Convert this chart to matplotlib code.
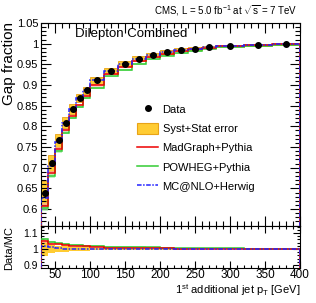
import numpy as np
import matplotlib
matplotlib.use("Agg")
import matplotlib.pyplot as plt
from matplotlib.lines import Line2D
from matplotlib.patches import Patch
from matplotlib.ticker import MultipleLocator, FixedLocator, FuncFormatter

plt.rcParams['font.family'] = ['Liberation Sans', 'DejaVu Sans']
plt.rcParams['mathtext.fontset'] = 'custom'
plt.rcParams['mathtext.rm'] = 'Liberation Sans'
plt.rcParams['mathtext.it'] = 'Liberation Sans'

# ---- data ----
bin_edges = [30, 40, 50, 60, 70, 80, 90, 100, 120, 140, 160, 180, 200, 220, 240, 260, 280, 320, 360, 400]
data_gap = [0.638, 0.711, 0.766, 0.809, 0.842, 0.868, 0.887, 0.911, 0.934, 0.951,
            0.964, 0.973, 0.980, 0.985, 0.988, 0.992, 0.995, 0.9975, 0.999]
data_stat = [0.008, 0.007, 0.006, 0.005, 0.005, 0.004, 0.004, 0.003, 0.003, 0.003,
             0.002, 0.002, 0.002, 0.002, 0.002, 0.001, 0.001, 0.001, 0.001]
data_tot = [0.029, 0.019, 0.016, 0.013, 0.011, 0.010, 0.009, 0.008, 0.007, 0.006,
            0.005, 0.0045, 0.004, 0.0035, 0.003, 0.003, 0.0025, 0.002, 0.002]
madgraph = [0.608, 0.688, 0.745, 0.790, 0.825, 0.852, 0.873, 0.899, 0.927, 0.944,
            0.958, 0.968, 0.976, 0.982, 0.986, 0.990, 0.994, 0.9965, 0.999]
powheg = [0.602, 0.681, 0.740, 0.785, 0.820, 0.847, 0.868, 0.893, 0.921, 0.937,
          0.951, 0.962, 0.971, 0.977, 0.982, 0.987, 0.991, 0.9945, 0.997]
mcnlo = [0.626, 0.704, 0.762, 0.808, 0.842, 0.869, 0.888, 0.911, 0.933, 0.951,
         0.964, 0.973, 0.980, 0.985, 0.988, 0.992, 0.995, 0.9975, 0.999]
mc_unc = [0.006, 0.005, 0.004, 0.004, 0.003, 0.003, 0.003, 0.003, 0.002, 0.002,
          0.002, 0.002, 0.002, 0.001, 0.001, 0.001, 0.001, 0.001, 0.001]

edges = np.array(bin_edges, float)
centers = 0.5 * (edges[:-1] + edges[1:])
widths = np.diff(edges)
d = np.array(data_gap)
tot = np.array(data_tot)
mg = np.array(madgraph); pw = np.array(powheg); nlo = np.array(mcnlo)
mu = np.array(mc_unc)

W, H = 316, 303
fig = plt.figure(figsize=(W / 100, H / 100), dpi=100)
L, R = 41 / W, 300 / W
ax = fig.add_axes([L, 1 - 226 / H, R - L, (226 - 23) / H])
axr = fig.add_axes([L, 1 - 268 / H, R - L, (268 - 226) / H])

gold = '#ffcc33'
edgegold = '#e8a317'
red = '#ee0000'
green = '#33cc33'
blue = '#2222ff'

# main panel
ax.bar(centers, 2 * tot, bottom=d - tot, width=widths, color=gold, edgecolor=edgegold, linewidth=0.6, zorder=1)
ax.bar(centers, 2 * mu, bottom=mg - mu, width=widths, color='#ffaaaa', alpha=0.6, linewidth=0, zorder=2)
ax.bar(centers, 2 * mu, bottom=pw - mu, width=widths, color='#aaeeaa', alpha=0.7, linewidth=0, zorder=2)
ax.stairs(pw, edges, color=green, lw=1.1, zorder=3)
ax.stairs(mg, edges, color=red, lw=1.1, zorder=4)
ax.stairs(nlo, edges, color=blue, lw=1.1, ls=(0, (3, 1, 1, 1)), zorder=5)
ax.errorbar(centers, d, yerr=data_stat, fmt='o', color='black', ms=4, elinewidth=0.8, capsize=0, zorder=6)

ax.set_xlim(30, 400)
ax.set_ylim(0.559, 1.05)
ax.yaxis.set_major_locator(MultipleLocator(0.05))
ax.yaxis.set_minor_locator(MultipleLocator(0.01))
ax.yaxis.set_major_formatter(FuncFormatter(lambda v, p: f"{v:.2f}".rstrip('0').rstrip('.')))
ax.xaxis.set_major_locator(MultipleLocator(50))
ax.xaxis.set_minor_locator(MultipleLocator(10))
ax.tick_params(labelbottom=False)

# ratio panel
rel = tot / d
axr.bar(centers, 2 * rel, bottom=1 - rel, width=widths, color=gold, linewidth=0, zorder=1)
axr.bar(centers, 2 * mu / mg, bottom=d / mg - mu / mg, width=widths, color='#ffaaaa', alpha=0.6, linewidth=0, zorder=2)
axr.bar(centers, 2 * mu / pw, bottom=d / pw - mu / pw, width=widths, color='#aaeeaa', alpha=0.7, linewidth=0, zorder=2)
axr.stairs(d / pw, edges, color=green, lw=1.1, zorder=3)
axr.stairs(d / mg, edges, color=red, lw=1.1, zorder=4)
axr.stairs(d / nlo, edges, color=blue, lw=1.1, ls=(0, (3, 1, 1, 1)), zorder=5)
axr.set_xlim(30, 400)
axr.set_ylim(0.881, 1.144)
axr.yaxis.set_major_locator(FixedLocator([0.9, 1.0, 1.1]))
axr.yaxis.set_minor_locator(MultipleLocator(0.02))
axr.yaxis.set_major_formatter(FuncFormatter(lambda v, p: f"{v:.1f}".rstrip('0').rstrip('.')))
axr.xaxis.set_major_locator(MultipleLocator(50))
axr.xaxis.set_minor_locator(MultipleLocator(10))

for a in (ax, axr):
    a.tick_params(which='both', direction='in', top=True, right=True, labelsize=8, pad=2)
    a.tick_params(which='major', length=7, width=0.8)
    a.tick_params(which='minor', length=3.5, width=0.8)
    for s in a.spines.values():
        s.set_linewidth(0.8)
axr.tick_params(which='major', length=5)
axr.tick_params(which='minor', length=2.5)
axr.tick_params(axis='y', labelsize=7.5)
axr.tick_params(axis='x', labelsize=8.5, pad=1)

# texts
fig.text(0.028, 1 - 22 / H, 'Gap fraction', rotation=90, ha='center', va='top', fontsize=11)
fig.text(0.028, 1 - 248 / H, 'Data/MC', rotation=90, ha='center', va='center', fontsize=8)
fig.text(R, 1 - 294 / H, '1$^{st}$ additional jet p$_{T}$ [GeV]', ha='right', va='baseline', fontsize=8)
fig.text(0.94, 1 - 11 / H, 'CMS, L = 5.0 fb$^{-1}$ at $\\sqrt{s}$ = 7 TeV', ha='right', va='center', fontsize=7)
ax.text(0.13, 0.945, 'Dilepton Combined', transform=ax.transAxes, ha='left', va='center', fontsize=9.5)

handles = [
    Line2D([], [], ls='none', marker='o', color='black', ms=4),
    Patch(facecolor=gold, edgecolor=edgegold, linewidth=0.8),
    Line2D([], [], color=red, lw=1.1),
    Line2D([], [], color=green, lw=1.1),
    Line2D([], [], color=blue, lw=1.1, ls=(0, (3, 1, 1, 1))),
]
labels = ['Data', 'Syst+Stat error', 'MadGraph+Pythia', 'POWHEG+Pythia', 'MC@NLO+Herwig']
fig.legend(handles, labels, loc='upper left', bbox_to_anchor=(137 / W, 1 - 103.5 / H),
           frameon=False, fontsize=8, handlelength=1.9, handleheight=1.2,
           labelspacing=0.7, handletextpad=0.4, borderpad=0, borderaxespad=0)

fig.savefig('out.png', dpi=100)
